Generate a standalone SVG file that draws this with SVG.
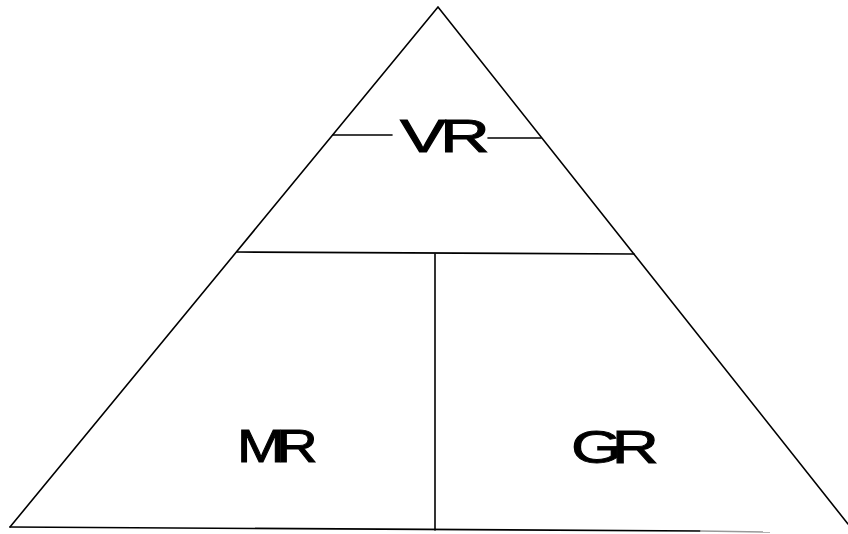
<svg xmlns="http://www.w3.org/2000/svg" width="848" height="534" viewBox="0 0 848 534">
<style>
.ln{stroke:#000;stroke-width:1.6;fill:none;stroke-linecap:round}
.lbl{font-family:"Liberation Sans",Arial,sans-serif;font-size:46px;fill:#000;stroke:#000;stroke-width:0.9}
</style>
<rect width="848" height="534" fill="#fff"/>
<g id="pyramid">
<path class="ln" d="M10,527 L438,7 L848,524"/>
<path class="ln" d="M10,527 L700,531"/>
<path d="M700,531 L770,532" stroke="#999" stroke-width="1.5" fill="none"/>
</g>
<g id="dividers">
<path class="ln" d="M237,252 L634,254"/>
<path class="ln" d="M435,254 L435,530"/>
<path class="ln" d="M333,135 L392,135"/>
<path class="ln" d="M488,138 L541,138"/>
</g>
<g id="node-vr">
<text class="lbl" transform="translate(400,152) scale(1.5,1)" letter-spacing="-4">VR</text>
</g>
<g id="node-mr">
<text class="lbl" transform="translate(237,462) scale(1.25,1)" letter-spacing="-7">MR</text>
</g>
<g id="node-gr">
<text class="lbl" transform="translate(571,463) scale(1.42,1)" letter-spacing="-7">GR</text>
</g>
</svg>
